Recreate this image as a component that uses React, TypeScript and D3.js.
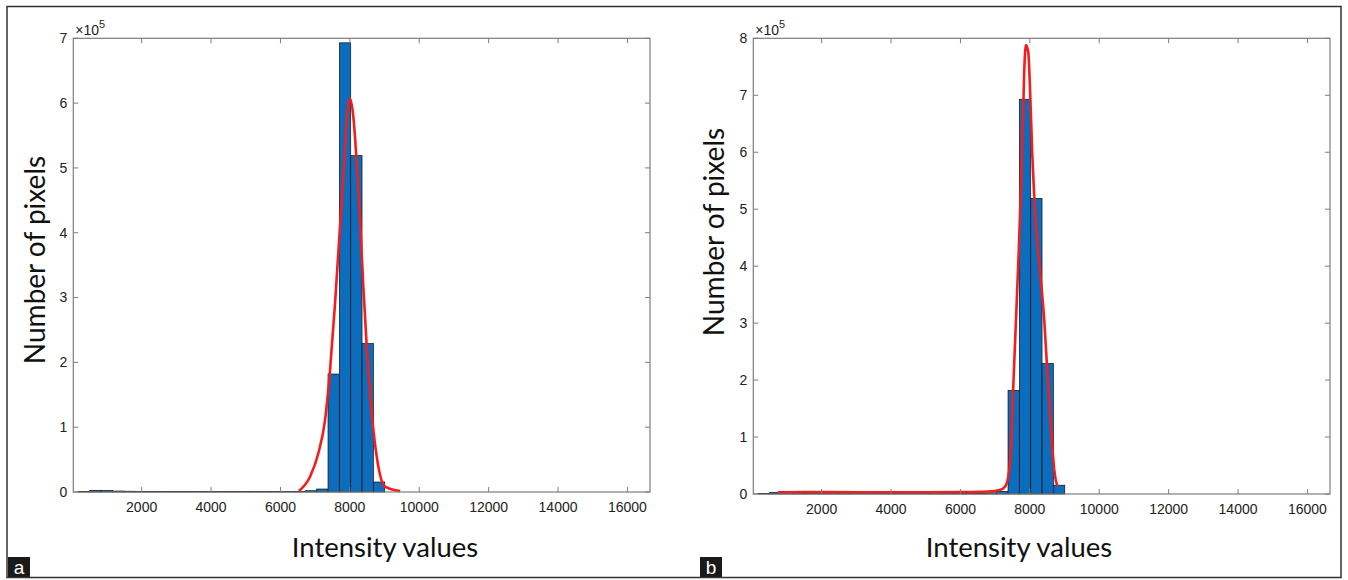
import React from 'react';
import * as d3 from 'd3';

const W = 1348;
const H = 580;

// histogram bins (intensity), same data shown in both panels
const binEdges = [177, 504, 831, 1158, 1485, 1812, 2139, 2466, 2793, 3120, 3447, 3774, 4101, 4428, 4755, 5082, 5409, 5736, 6063, 6390, 6717, 7044, 7371, 7697, 8025, 8351, 8677, 9006];
const binCounts = [900, 2600, 2400, 1500, 1200, 1000, 900, 800, 800, 700, 700, 700, 700, 700, 700, 700, 700, 800, 800, 900, 2000, 4600, 182000, 693000, 519000, 229000, 15400];

// fitted curve, panel a
const fitAx = [6530, 6852, 7092, 7285, 7429, 7573, 7697, 7824, 7911, 8006, 8101, 8199, 8294, 8389, 8487, 8631, 8775, 9014, 9450];
const fitAy = [1500, 23600, 59700, 111000, 188000, 291000, 394000, 496000, 573500, 607000, 578600, 506800, 419000, 316500, 224000, 121300, 54400, 8200, 1500];

// fitted curve, panel b
const fitBx = [740, 1500, 3000, 4500, 6000, 6800, 7138, 7282, 7378, 7447, 7522, 7600, 7677, 7744, 7801, 7839, 7888, 7954, 8003, 8069, 8167, 8291, 8415, 8530, 8628, 8703, 8790];
const fitBy = [3000, 3500, 3000, 3000, 3500, 4500, 7000, 12800, 30400, 71400, 188000, 305000, 422000, 539000, 656000, 744000, 788000, 776000, 714500, 597700, 480700, 393000, 305000, 188000, 100500, 42100, 14000];

const xTicks = [2000, 4000, 6000, 8000, 10000, 12000, 14000, 16000];
const yTicksA = [0, 1, 2, 3, 4, 5, 6, 7];
const yTicksB = [0, 1, 2, 3, 4, 5, 6, 7, 8];

const xDomain = [30, 16650];
const tickFont = '"Liberation Sans", Arial, sans-serif';
const labelFont = 'Lato, "Open Sans", sans-serif';
const axisColor = '#7d7d7d';

type PanelProps = {
  left: number;
  right: number;
  top: number;
  bottom: number;
  yMax: number;
  yTicks: number[];
  fx: number[];
  fy: number[];
  letter: string;
  letterX: number;
  xLabelX: number;
  yLabelX: number;
  yLabelY: number;
};

function Panel(p: PanelProps) {
  const x = d3.scaleLinear().domain(xDomain).range([p.left, p.right]);
  const y = d3.scaleLinear().domain([0, p.yMax * 1e5]).range([p.bottom, p.top]);
  const pts = p.fx.map((v, i) => [v, p.fy[i]] as [number, number]);
  const line = d3
    .line<[number, number]>()
    .x(d => x(d[0]))
    .y(d => y(d[1]))
    .curve(d3.curveMonotoneX);
  const tl = 5;

  return (
    <g>
      {/* bars */}
      {binCounts.map((c, i) => (
        <rect
          key={i}
          x={x(binEdges[i])}
          y={y(c)}
          width={x(binEdges[i + 1]) - x(binEdges[i])}
          height={p.bottom - y(c)}
          fill="#0b6dbb"
          stroke="#111"
          strokeWidth={0.7}
        />
      ))}
      <path d={line(pts) || ''} fill="none" stroke="#f41d1d" strokeWidth={2.6} strokeLinejoin="round" />

      {/* box */}
      <rect x={p.left} y={p.top} width={p.right - p.left} height={p.bottom - p.top} fill="none" stroke={axisColor} strokeWidth={1.2} />
      {xTicks.map(t => (
        <g key={'x' + t}>
          <line x1={x(t)} x2={x(t)} y1={p.bottom} y2={p.bottom - tl} stroke={axisColor} />
          <line x1={x(t)} x2={x(t)} y1={p.top} y2={p.top + tl} stroke={axisColor} />
          <text x={x(t)} y={p.bottom + 20} textAnchor="middle" fontFamily={tickFont} fontSize={14} fill="#222">
            {t}
          </text>
        </g>
      ))}
      {p.yTicks.map(t => (
        <g key={'y' + t}>
          <line x1={p.left} x2={p.left + tl} y1={y(t * 1e5)} y2={y(t * 1e5)} stroke={axisColor} />
          <line x1={p.right} x2={p.right - tl} y1={y(t * 1e5)} y2={y(t * 1e5)} stroke={axisColor} />
          <text x={p.left - 6} y={y(t * 1e5)} dy="0.35em" textAnchor="end" fontFamily={tickFont} fontSize={14} fill="#222">
            {t}
          </text>
        </g>
      ))}
      <text x={p.left + 2} y={p.top - 3} fontFamily={tickFont} fontSize={14} fill="#222">
        ×10<tspan dy={-7} fontSize={11}>5</tspan>
      </text>

      {/* labels */}
      <text x={p.xLabelX} y={557} textAnchor="middle" fontFamily={labelFont} fontSize={27.5} fill="#111">
        Intensity values
      </text>
      <text
        transform={`translate(${p.yLabelX},${p.yLabelY}) rotate(-90)`}
        textAnchor="middle"
        dominantBaseline="central"
        fontFamily={labelFont}
        fontSize={28}
        fill="#111"
      >
        Number of pixels
      </text>

      <rect x={p.letterX} y={557} width={22} height={21} fill="#1a1a1a" />
      <text x={p.letterX + 11} y={574} textAnchor="middle" fontFamily={tickFont} fontSize={19} fill="#fff">
        {p.letter}
      </text>
    </g>
  );
}

export default function App() {
  return (
    <div style={{ position: 'absolute', left: 0, top: 0 }}>
      <svg width={W} height={H} style={{ display: 'block', background: '#fff' }}>
        <Panel
          left={73.3}
          right={650}
          top={38.3}
          bottom={492}
          yMax={7}
          yTicks={yTicksA}
          fx={fitAx}
          fy={fitAy}
          letter="a"
          letterX={8}
          xLabelX={385}
          yLabelX={34}
          yLabelY={260}
        />
        <Panel
          left={753.3}
          right={1330}
          top={38.3}
          bottom={494}
          yMax={8}
          yTicks={yTicksB}
          fx={fitBx}
          fy={fitBy}
          letter="b"
          letterX={700}
          xLabelX={1019}
          yLabelX={713}
          yLabelY={232}
        />
        <rect x={7} y={6.5} width={1334} height={571} fill="none" stroke="#333" strokeWidth={1.5} />
      </svg>
    </div>
  );
}
